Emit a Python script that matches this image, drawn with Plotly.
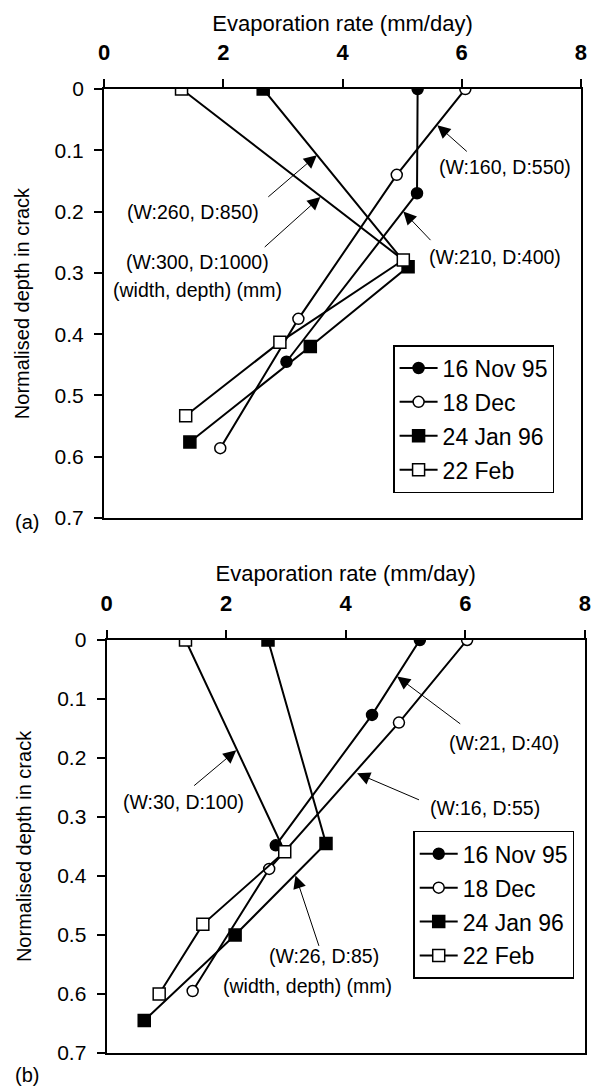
import plotly.graph_objects as go

# ---------------- data ----------------
series_names = ["16 Nov 95", "18 Dec", "24 Jan 96", "22 Feb"]

# Panel (a): large cracks
a_nov_rate = [5.26, 5.25, 3.06]
a_nov_depth = [0.0, 0.17, 0.445]
a_dec_rate = [6.06, 4.91, 3.26, 1.95]
a_dec_depth = [0.0, 0.14, 0.375, 0.586]
a_jan_rate = [2.67, 5.10, 3.46, 1.44]
a_jan_depth = [0.0, 0.29, 0.42, 0.576]
a_feb_rate = [1.30, 5.02, 2.95, 1.37]
a_feb_depth = [0.0, 0.279, 0.413, 0.533]

# Panel (b): small cracks
b_nov_rate = [5.24, 4.44, 2.83]
b_nov_depth = [0.0, 0.127, 0.348]
b_dec_rate = [6.03, 4.89, 2.72, 1.44]
b_dec_depth = [0.0, 0.14, 0.388, 0.595]
b_jan_rate = [2.70, 3.67, 2.15, 0.63]
b_jan_depth = [0.0, 0.345, 0.50, 0.645]
b_feb_rate = [1.32, 2.98, 1.61, 0.88]
b_feb_depth = [0.0, 0.359, 0.482, 0.60]

x_ticks = [0, 2, 4, 6, 8]
y_ticks = [0, 0.1, 0.2, 0.3, 0.4, 0.5, 0.6, 0.7]
y_tick_text = ["0", "0.1", "0.2", "0.3", "0.4", "0.5", "0.6", "0.7"]

# crack labels: text, text position, arrow tail, arrow head
a_labels = ["(W:160, D:550)", "(W:260, D:850)", "(W:300, D:1000)", "(W:210, D:400)"]
a_text_pos = [(6.73, 0.127), (1.49, 0.200), (1.56, 0.282), (6.56, 0.274)]
a_tail = [(6.11, 0.104), (2.73, 0.178), (2.67, 0.260), (5.50, 0.249)]
a_head = [(5.59, 0.059), (3.57, 0.108), (3.63, 0.176), (5.02, 0.200)]
a_unit_pos = (1.56, 0.328)

b_labels = ["(W:21, D:40)", "(W:30, D:100)", "(W:16, D:55)", "(W:26, D:85)"]
b_text_pos = [(6.64, 0.174), (1.28, 0.275), (6.33, 0.284), (3.64, 0.536)]
b_tail = [(5.94, 0.144), (1.44, 0.249), (5.25, 0.272), (3.56, 0.521)]
b_head = [(4.86, 0.062), (2.17, 0.187), (4.19, 0.226), (3.16, 0.399)]
b_unit_pos = (3.36, 0.587)

unit_text = "(width, depth) (mm)"

# ---------------- styling ----------------
FONT = "Liberation Sans, Arial, sans-serif"
symbols = ["circle", "circle-open", "square", "square-open"]
msizes = [11, 11, 12, 12]

fig = go.Figure()

panels = [
    ("x", "y", [(a_nov_rate, a_nov_depth), (a_dec_rate, a_dec_depth),
                (a_jan_rate, a_jan_depth), (a_feb_rate, a_feb_depth)], "legend"),
    ("x2", "y2", [(b_nov_rate, b_nov_depth), (b_dec_rate, b_dec_depth),
                  (b_jan_rate, b_jan_depth), (b_feb_rate, b_feb_depth)], "legend2"),
]

for xa, ya, data, leg in panels:
    for name, (xs, ys), sym, ms in zip(series_names, data, symbols, msizes):
        open_ = "open" in sym
        fig.add_trace(go.Scatter(
            x=xs, y=ys, name=name, mode="lines+markers",
            xaxis=xa, yaxis=ya, legend=leg, legendgroup=leg + name,
            line=dict(color="black", width=2),
            marker=dict(symbol=sym.replace("-open", ""), size=ms,
                        color="white" if open_ else "black",
                        line=dict(color="black", width=1.5)),
        ))

axis_common = dict(
    range=[0, 8], tickvals=x_ticks, side="top", showline=True, linecolor="black",
    linewidth=2, mirror=True, ticks="outside", ticklen=8, tickwidth=1.5,
    tickcolor="black", showgrid=False, zeroline=False, automargin=False,
    tickfont=dict(family=FONT, size=22, color="black", weight="bold"),
    ticklabelstandoff=10,
)
yaxis_common = dict(
    range=[0.7, 0], tickvals=y_ticks, ticktext=y_tick_text, showline=True,
    linecolor="black", linewidth=2, mirror=True, ticks="outside", ticklen=8,
    tickwidth=1.5, tickcolor="black", showgrid=False, zeroline=False, automargin=False,
    tickfont=dict(family=FONT, size=21, color="black"),
    ticklabelstandoff=6,
)
title_x = dict(text="Evaporation rate (mm/day)", font=dict(family=FONT, size=22, color="black"), standoff=3)
title_y = dict(text="Normalised depth in crack", font=dict(family=FONT, size=20, color="black"), standoff=20)

legend_common = dict(
    bgcolor="white", bordercolor="black", borderwidth=1.5,
    font=dict(family=FONT, size=23, color="black"),
    xanchor="left", yanchor="top", tracegroupgap=1, itemwidth=38,
)

fig.update_layout(
    template="none",
    width=592, height=1086,
    margin=dict(l=0, r=0, t=0, b=0, autoexpand=False),
    paper_bgcolor="white", plot_bgcolor="white",
    font=dict(family=FONT, color="black"),
    showlegend=True,
    xaxis=dict(axis_common, domain=[0.1757, 0.9814], anchor="y", title=title_x),
    yaxis=dict(yaxis_common, domain=[0.523, 0.918], anchor="x", title=title_y),
    xaxis2=dict(axis_common, domain=[0.180, 0.988], anchor="y2", title=title_x),
    yaxis2=dict(yaxis_common, domain=[0.0304, 0.4107], anchor="x2", title=title_y),
    legend=dict(legend_common, x=0.664, y=0.6823),
    legend2=dict(legend_common, x=0.698, y=0.235),
)

ann = []
ann_font = dict(family=FONT, size=19.5, color="black")
for xr, yr, labels, tpos, tails, heads, upos in [
    ("x", "y", a_labels, a_text_pos, a_tail, a_head, a_unit_pos),
    ("x2", "y2", b_labels, b_text_pos, b_tail, b_head, b_unit_pos),
]:
    for lab, (tx, ty), (sx, sy), (hx, hy) in zip(labels, tpos, tails, heads):
        ann.append(dict(x=tx, y=ty, xref=xr, yref=yr, text=lab, showarrow=False,
                        font=ann_font))
        ann.append(dict(x=hx, y=hy, xref=xr, yref=yr, ax=sx, ay=sy,
                        axref=xr, ayref=yr, text="", showarrow=True,
                        arrowhead=2, arrowsize=2.6, arrowwidth=1, arrowcolor="black"))
    ann.append(dict(x=upos[0], y=upos[1], xref=xr, yref=yr, text=unit_text,
                    showarrow=False, font=ann_font))

ann.append(dict(x=27 / 592, y=1 - 522 / 1086, xref="paper", yref="paper", text="(a)",
                xanchor="center", yanchor="middle",
                showarrow=False, font=dict(family=FONT, size=20, color="black")))
ann.append(dict(x=27 / 592, y=1 - 1075 / 1086, xref="paper", yref="paper", text="(b)",
                xanchor="center", yanchor="middle",
                showarrow=False, font=dict(family=FONT, size=20, color="black")))
fig.update_layout(annotations=ann)

fig.write_html("out.html", config={"displayModeBar": False},
               post_script="document.body.style.margin='0px';")
